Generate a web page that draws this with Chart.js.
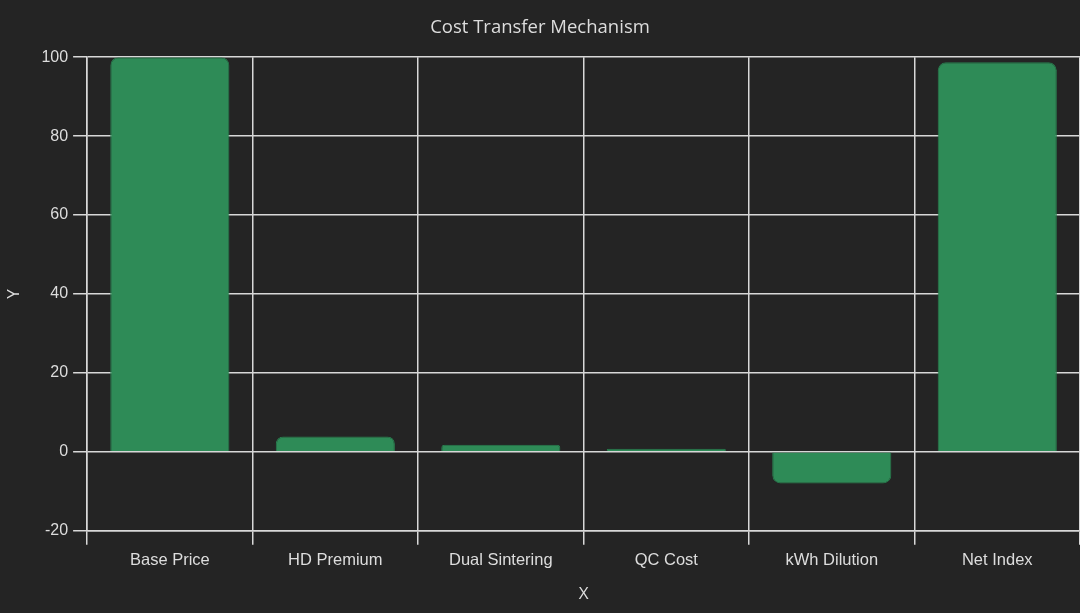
<!DOCTYPE html>
<html>
<head>
<meta charset="utf-8">
<script src="https://cdn.jsdelivr.net/npm/chart.js@4/dist/chart.umd.min.js"></script>
<style>
  html, body { margin: 0; padding: 0; background: #242424; }
  #wrap { width: 1080px; height: 613px; }
</style>
</head>
<body>
<div id="wrap"><canvas id="myChart"></canvas></div>
<script>
let categories = ['Base Price', 'HD Premium', 'Dual Sintering', 'QC Cost', 'kWh Dilution', 'Net Index'];
let values = [100, 3.9, 1.8, 0.8, -8, 98.7];
let yTicks = [-20, 0, 20, 40, 60, 80, 100];

let gridColor = '#d8d8d8';
let textColor = '#dddddd';

let settings = {
  type: 'bar',
  data: {
    labels: categories,
    datasets: [{
      label: 'Cost',
      data: values,
      backgroundColor: '#2e8b57',
      borderColor: '#287d4e',
      borderWidth: 1,
      borderRadius: 8
    }]
  },
  options: {
    responsive: true,
    maintainAspectRatio: false,
    animation: false,
    layout: { padding: { top: 0, right: 0, bottom: 5, left: 0 } },
    plugins: {
      legend: { display: false },
      tooltip: { enabled: false },
      title: {
        display: true,
        text: 'Cost Transfer Mechanism',
        color: textColor,
        font: { family: 'Open Sans', size: 18.5, weight: 'normal' },
        padding: { top: 17, bottom: 18 }
      }
    },
    scales: {
      x: {
        grid: { color: gridColor, lineWidth: 1.5, tickLength: 14, offset: true },
        border: { color: gridColor, width: 1.5 },
        ticks: { color: textColor, font: { family: 'Liberation Sans', size: 16.5 }, padding: 6 },
        title: {
          display: true, text: 'X', color: textColor,
          font: { family: 'Open Sans', size: 17 }, padding: { top: 7 }
        }
      },
      y: {
        min: yTicks[0],
        max: yTicks[yTicks.length - 1],
        afterBuildTicks: axis => { axis.ticks = yTicks.map(v => ({ value: v })); },
        grid: { color: gridColor, lineWidth: 1.5, tickLength: 14 },
        border: { color: gridColor, width: 1.5 },
        ticks: { color: textColor, font: { family: 'Liberation Sans', size: 16 }, padding: 5 },
        title: {
          display: true, text: 'Y', color: textColor,
          font: { family: 'Open Sans', size: 17 }, padding: { bottom: 12 }
        }
      }
    }
  }
};

window.onload = function () {
  window.chart = new Chart('myChart', settings);
};
</script>
</body>
</html>
